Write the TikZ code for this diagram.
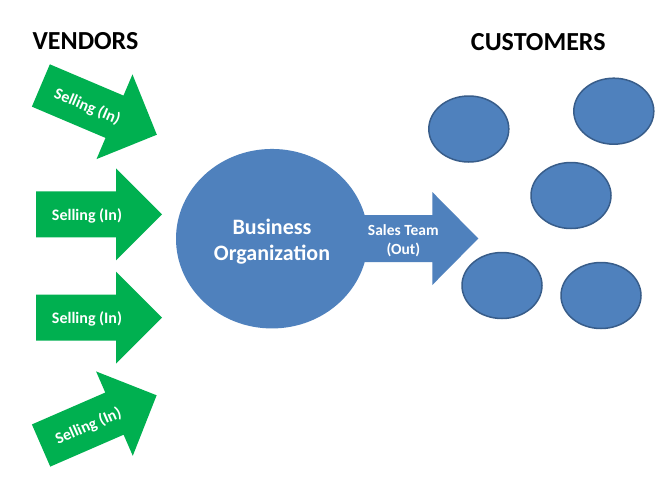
\documentclass[tikz,border=0pt]{standalone}
\usepackage{fontspec}
\setmainfont{Carlito}
\usetikzlibrary{shapes.geometric}
\definecolor{arrgreen}{HTML}{00B050}
\definecolor{orgblue}{HTML}{4F81BD}
\definecolor{edgeblue}{HTML}{385D8A}
\tikzset{
  sellarrow/.style={fill=arrgreen},
  selltext/.style={text=white, font=\bfseries\fontsize{16}{19}\selectfont, inner sep=0pt},
  heading/.style={text=black, font=\bfseries\fontsize{26}{30}\selectfont, inner sep=0pt},
  customer/.style={draw=edgeblue, line width=1.5pt, fill=orgblue},
}
\newcommand\greenarrow{%
  \fill[sellarrow] (-63,-23) -- (17,-23) -- (17,-46) -- (63,0) -- (17,46) -- (17,23) -- (-63,23) -- cycle;}
\begin{document}
\begin{tikzpicture}[x=1pt,y=-1pt]
\useasboundingbox (0,0) rectangle (670,483);
\fill[white] (0,0) rectangle (670,483);

% headings
\node[heading] (vendors) at (85.5,41.5) {VENDORS};
\node[heading] (customers) at (538.3,42) {CUSTOMERS};

% vendor arrows
\begin{scope}[shift={(98.85,110.1)}, rotate=-23]
  \greenarrow
  \node[selltext, rotate=-23] (sell1) at (-12,1.5) {Selling (In)};
\end{scope}
\begin{scope}[shift={(99,214.3)}]
  \greenarrow
  \node[selltext] (sell2) at (-12,1.5) {Selling (In)};
\end{scope}
\begin{scope}[shift={(99,317.6)}]
  \greenarrow
  \node[selltext] (sell3) at (-12,1.5) {Selling (In)};
\end{scope}
\begin{scope}[shift={(98.85,420.4)}, rotate=23.5]
  \greenarrow
  \node[selltext, rotate=23.5] (sell4) at (-12,1.5) {Selling (In)};
\end{scope}

% sales arrow
\fill[orgblue] (330,215) -- (432.3,215) -- (432.3,192) -- (478.3,238.5) -- (432.3,285) -- (432.3,262) -- (330,262) -- cycle;
\node[text=white, font=\bfseries\fontsize{15.5}{18.5}\selectfont, align=center, inner sep=0pt] (sales) at (403.3,240.5) {Sales Team\\(Out)};

% business organization
\node[ellipse, fill=orgblue, minimum width=192pt, minimum height=179.5pt, inner sep=0pt] (org) at (272,238.7) {};
\node[text=white, font=\bfseries\fontsize{22}{26}\selectfont, align=center, inner sep=0pt] (orgtext) at (272,241.2) {Business\\Organization};

% customers
\draw[customer] (468.8,129) ellipse [x radius=40, y radius=33];
\draw[customer] (613.8,111.2) ellipse [x radius=40, y radius=33];
\draw[customer] (571,195.5) ellipse [x radius=40, y radius=33];
\draw[customer] (502,285.5) ellipse [x radius=40, y radius=33];
\draw[customer] (601,295.5) ellipse [x radius=40, y radius=33];
\end{tikzpicture}
\end{document}
